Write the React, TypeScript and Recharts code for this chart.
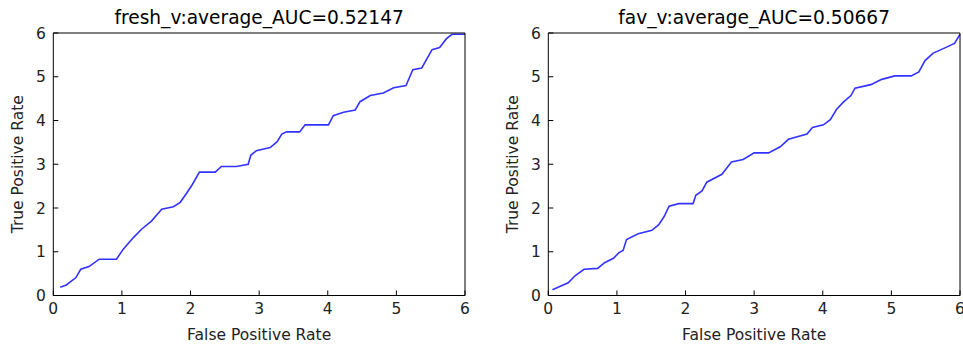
import React from "react";
import { LineChart, Line, XAxis, YAxis } from "recharts";

// ROC-like curves
const freshX = [0.1, 0.19, 0.33, 0.4, 0.52, 0.67, 0.92, 1.02, 1.17, 1.29, 1.43, 1.58, 1.75, 1.85, 1.94, 2.02, 2.13, 2.36, 2.45, 2.67, 2.84, 2.88, 2.96, 3.16, 3.26, 3.33, 3.4, 3.59, 3.67, 4.01, 4.08, 4.23, 4.4, 4.47, 4.62, 4.81, 4.96, 5.14, 5.24, 5.37, 5.52, 5.63, 5.73, 5.81, 6.0];
const freshY = [0.19, 0.24, 0.41, 0.6, 0.66, 0.83, 0.83, 1.06, 1.33, 1.52, 1.7, 1.97, 2.03, 2.13, 2.33, 2.52, 2.82, 2.82, 2.95, 2.95, 3.0, 3.21, 3.31, 3.38, 3.51, 3.69, 3.74, 3.74, 3.9, 3.9, 4.11, 4.19, 4.24, 4.43, 4.57, 4.63, 4.75, 4.8, 5.16, 5.2, 5.62, 5.67, 5.87, 5.97, 5.97];

const favX = [0.06, 0.29, 0.39, 0.52, 0.72, 0.82, 0.95, 1.03, 1.09, 1.14, 1.31, 1.51, 1.61, 1.69, 1.76, 1.9, 2.11, 2.15, 2.24, 2.31, 2.53, 2.59, 2.67, 2.84, 3.0, 3.21, 3.38, 3.5, 3.77, 3.85, 4.01, 4.11, 4.2, 4.3, 4.41, 4.47, 4.7, 4.86, 5.05, 5.29, 5.4, 5.49, 5.61, 5.78, 5.92, 6.0];
const favY = [0.13, 0.29, 0.45, 0.6, 0.62, 0.75, 0.85, 0.98, 1.03, 1.28, 1.41, 1.49, 1.62, 1.81, 2.04, 2.1, 2.1, 2.29, 2.39, 2.59, 2.77, 2.89, 3.05, 3.11, 3.26, 3.26, 3.4, 3.57, 3.69, 3.84, 3.9, 4.02, 4.25, 4.42, 4.57, 4.74, 4.82, 4.94, 5.02, 5.02, 5.11, 5.37, 5.54, 5.66, 5.76, 5.97];

const ticks = [0, 1, 2, 3, 4, 5, 6];

const FONT = "'DejaVu Sans', sans-serif";
const tickStyle = { fontSize: 15.5, fill: "#222", fontFamily: FONT };

function toPoints(xs: number[], ys: number[]) {
  return xs.map((x, i) => ({ x, y: ys[i] }));
}

function RocPanel({ title, data, left, width, margin }: any) {
  return (
    <div style={{ position: "absolute", left, top: 0 }}>
      <LineChart width={width} height={347} data={data} margin={margin}>
        <XAxis
          dataKey="x"
          type="number"
          domain={[0, 6]}
          ticks={ticks}
          height={1}
          tickSize={-5}
          tickMargin={12.5}
          stroke="#000"
          tick={tickStyle}
          interval={0}
          label={{ value: "False Positive Rate", position: "bottom", offset: 32.5, style: { fontSize: 15.5, fill: "#222", fontFamily: FONT } }}
        />
        <XAxis xAxisId="top" orientation="top" dataKey="x" type="number" domain={[0, 6]} ticks={ticks} height={1} tickSize={-5} stroke="#000" tick={false}
          label={{ value: title, position: "top", offset: 8, style: { fontSize: 18.6, fill: "#000", fontFamily: FONT } }}
        />
        <YAxis
          type="number"
          domain={[0, 6]}
          ticks={ticks}
          width={1}
          tickSize={-5}
          tickMargin={12.5}
          stroke="#000"
          tick={tickStyle}
          interval={0}
          label={{ value: "True Positive Rate", angle: -90, position: "left", offset: 35, style: { fontSize: 15.5, fill: "#222", fontFamily: FONT, textAnchor: "middle" } }}
        />
        <YAxis yAxisId="right" orientation="right" type="number" domain={[0, 6]} ticks={ticks} width={1} tickSize={-5} stroke="#000" tick={false} />
        <Line type="linear" dataKey="y" stroke="#3333ff" strokeWidth={1.6} dot={false} isAnimationActive={false} />
      </LineChart>
    </div>
  );
}

export default function App() {
  return (
    <div style={{ position: "absolute", left: 0, top: 0, width: 963, height: 347, background: "#fff", overflow: "hidden" }}>
      <RocPanel
        title="fresh_v:average_AUC=0.52147"
        data={toPoints(freshX, freshY)}
        left={0}
        width={480}
        margin={{ top: 32, right: 14, bottom: 50.5, left: 52.3 }}
      />
      <RocPanel
        title="fav_v:average_AUC=0.50667"
        data={toPoints(favX, favY)}
        left={480}
        width={483}
        margin={{ top: 32, right: 2, bottom: 50.5, left: 67.3 }}
      />
    </div>
  );
}
